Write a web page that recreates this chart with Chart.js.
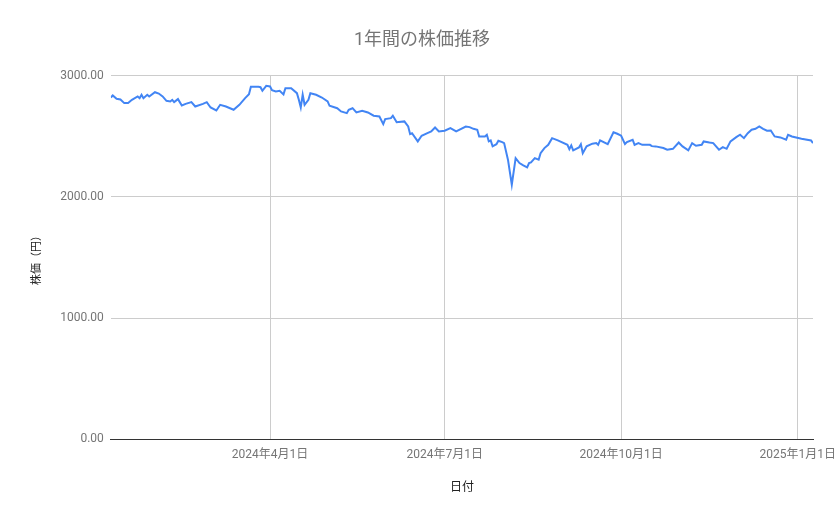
<!DOCTYPE html>
<html>
<head>
<meta charset="utf-8">
<script src="https://cdn.jsdelivr.net/npm/chart.js@4/dist/chart.umd.min.js"></script>
<style>
	html, body { margin: 0; padding: 0; background: #fff; }
	#wrap { width: 839px; height: 519px; }
</style>
</head>
<body>
<div id="wrap"><canvas id="chart" width="839" height="519"></canvas></div>
<script>
"use strict";


const fontFamily = "Roboto, 'Noto Sans CJK JP', sans-serif";
const labelColor = "#757575";
const axisTitleColor = "#222";
const gridColor = "#cccccc";
const lineColor = "#4285f4";


const dates = [
	"2024-01-09", "2024-01-10", "2024-01-12", "2024-01-14", "2024-01-16", "2024-01-18", "2024-01-20",
	"2024-01-23", "2024-01-24", "2024-01-25", "2024-01-26", "2024-01-28", "2024-01-29",
	"2024-02-01", "2024-02-03", "2024-02-05", "2024-02-07", "2024-02-09", "2024-02-10", "2024-02-11",
	"2024-02-13", "2024-02-15", "2024-02-17", "2024-02-20", "2024-02-22", "2024-02-26", "2024-02-28",
	"2024-03-01", "2024-03-04", "2024-03-06", "2024-03-09", "2024-03-13", "2024-03-16", "2024-03-19",
	"2024-03-21", "2024-03-22", "2024-03-26", "2024-03-27", "2024-03-28", "2024-03-30",
	"2024-04-01", "2024-04-02", "2024-04-04", "2024-04-06", "2024-04-08", "2024-04-09", "2024-04-12",
	"2024-04-15", "2024-04-16", "2024-04-17", "2024-04-18", "2024-04-19", "2024-04-21", "2024-04-22",
	"2024-04-25", "2024-04-28",
	"2024-05-01", "2024-05-02", "2024-05-06", "2024-05-08", "2024-05-11", "2024-05-12", "2024-05-14",
	"2024-05-16", "2024-05-19", "2024-05-22", "2024-05-25", "2024-05-28", "2024-05-30", "2024-05-31",
	"2024-06-03", "2024-06-04", "2024-06-06", "2024-06-10", "2024-06-12", "2024-06-13", "2024-06-14",
	"2024-06-17", "2024-06-19", "2024-06-22", "2024-06-24", "2024-06-26", "2024-06-28",
	"2024-07-01", "2024-07-04", "2024-07-07", "2024-07-12", "2024-07-14", "2024-07-16", "2024-07-18",
	"2024-07-19", "2024-07-22", "2024-07-23", "2024-07-24", "2024-07-25", "2024-07-26", "2024-07-28",
	"2024-07-29", "2024-07-31",
	"2024-08-01", "2024-08-03", "2024-08-05", "2024-08-07", "2024-08-09", "2024-08-11", "2024-08-13",
	"2024-08-14", "2024-08-15", "2024-08-17", "2024-08-19", "2024-08-20", "2024-08-22", "2024-08-24",
	"2024-08-26", "2024-08-29",
	"2024-09-03", "2024-09-04", "2024-09-05", "2024-09-06", "2024-09-09", "2024-09-10", "2024-09-11",
	"2024-09-13", "2024-09-16", "2024-09-18", "2024-09-19", "2024-09-20", "2024-09-24", "2024-09-27",
	"2024-09-29",
	"2024-10-01", "2024-10-03", "2024-10-04", "2024-10-07", "2024-10-08", "2024-10-10", "2024-10-12",
	"2024-10-16", "2024-10-17", "2024-10-19", "2024-10-23", "2024-10-25", "2024-10-28", "2024-10-31",
	"2024-11-02", "2024-11-05", "2024-11-07", "2024-11-09", "2024-11-12", "2024-11-13", "2024-11-16",
	"2024-11-18", "2024-11-21", "2024-11-23", "2024-11-25", "2024-11-27", "2024-11-30",
	"2024-12-02", "2024-12-04", "2024-12-06", "2024-12-08", "2024-12-10", "2024-12-12", "2024-12-14",
	"2024-12-16", "2024-12-18", "2024-12-20", "2024-12-23", "2024-12-26", "2024-12-27", "2024-12-29",
	"2025-01-03", "2025-01-08", "2025-01-09",
];

const prices = [
	2819, 2836, 2809, 2803, 2773, 2773, 2800,
	2828, 2814, 2842, 2814, 2842, 2828,
	2863, 2852, 2828, 2792, 2787, 2800, 2781,
	2806, 2753, 2767, 2781, 2745, 2767, 2781,
	2737, 2712, 2759, 2745, 2718, 2759, 2814,
	2847, 2908, 2908, 2904, 2875, 2916,
	2910, 2880, 2869, 2875, 2845, 2896, 2896,
	2855, 2800, 2737, 2842, 2759, 2800, 2855,
	2842, 2819,
	2787, 2751, 2731, 2704, 2690, 2718, 2731,
	2696, 2710, 2696, 2669, 2663, 2600, 2641,
	2649, 2669, 2616, 2622, 2580, 2517, 2525,
	2457, 2504, 2525, 2539, 2572, 2539,
	2545, 2567, 2540, 2580, 2575, 2561, 2553,
	2498, 2498, 2512, 2457, 2465, 2416, 2434,
	2462, 2451,
	2443, 2306, 2100, 2319, 2278, 2259, 2242,
	2278, 2284, 2319, 2306, 2360, 2402, 2429,
	2484, 2465,
	2429, 2393, 2424, 2383, 2407, 2434, 2360,
	2416, 2438, 2443, 2429, 2465, 2434, 2533,
	2520,
	2504, 2435, 2451, 2471, 2429, 2443, 2429,
	2429, 2418, 2416, 2402, 2388, 2396, 2448,
	2416, 2383, 2443, 2421, 2429, 2457, 2448,
	2443, 2388, 2410, 2396, 2457, 2492,
	2512, 2484, 2525, 2553, 2561, 2580, 2561,
	2545, 2547, 2498, 2490, 2471, 2512, 2498,
	2479, 2465, 2443,
];

const rangeStart = "2024-01-09";
const rangeEnd = "2025-01-09";
const tickDates = ["2024-04-01", "2024-07-01", "2024-10-01", "2025-01-01"];
const tickLabels = ["2024年4月1日", "2024年7月1日", "2024年10月1日", "2025年1月1日"];


// days counted from 2024-01-01, so the x axis can stay linear
function dayNum(iso) {
	return Math.round((Date.parse(iso) - Date.parse("2024-01-01")) / 86400000);
}


function load_chart() {
	const ctx = document.getElementById("chart").getContext("2d");
	const tickDays = tickDates.map(dayNum);

	const data = {
		datasets: [{
			label: "株価",
			data: dates.map((d, i) => ({ x: dayNum(d), y: prices[i] })),
			borderColor: lineColor,
			backgroundColor: lineColor,
			borderWidth: 2,
			pointRadius: 0,
			tension: 0,
			fill: false,
		}],
	};

	const config = {
		type: "line",
		data: data,
		options: {
			responsive: false,
			animation: false,
			layout: {
				padding: { top: 20, right: 26, bottom: 24, left: 31 },
			},
			plugins: {
				legend: { display: false },
				tooltip: { enabled: false },
				title: {
					display: true,
					text: "1年間の株価推移",
					color: labelColor,
					font: { family: fontFamily, size: 18, weight: "normal" },
					padding: { top: 10, bottom: 24 },
				},
			},
			scales: {
				x: {
					type: "linear",
					min: dayNum(rangeStart),
					max: dayNum(rangeEnd),
					afterBuildTicks: axis => {
						axis.ticks = tickDays.map(v => ({ value: v }));
					},
					// the last label may run into the right margin, as in the original
					afterFit: axis => {
						axis.paddingLeft = 0;
						axis.paddingRight = 0;
					},
					ticks: {
						color: labelColor,
						font: { family: fontFamily, size: 12 },
						padding: 9,
						maxRotation: 0,
						autoSkip: false,
						callback: value => tickLabels[tickDays.indexOf(value)],
					},
					grid: {
						color: gridColor,
						drawTicks: false,
					},
					border: { display: true, color: "#333", width: 1 },
					title: {
						display: true,
						text: "日付",
						color: axisTitleColor,
						font: { family: fontFamily, size: 12 },
						padding: { top: 9, bottom: 0 },
					},
				},
				y: {
					min: 0,
					max: 3000,
					ticks: {
						stepSize: 1000,
						color: labelColor,
						font: { family: fontFamily, size: 12 },
						padding: 7,
						callback: value => value.toFixed(2),
					},
					grid: {
						color: ctx => ctx.tick && ctx.tick.value === 0 ? "#333" : gridColor,
						drawTicks: false,
					},
					border: { display: false },
					title: {
						display: true,
						text: "株価（円）",
						color: axisTitleColor,
						font: { family: fontFamily, size: 11 },
						padding: { top: 0, bottom: 9 },
					},
				},
			},
		},
	};

	new Chart(ctx, config);
}


load_chart();
</script>
</body>
</html>
